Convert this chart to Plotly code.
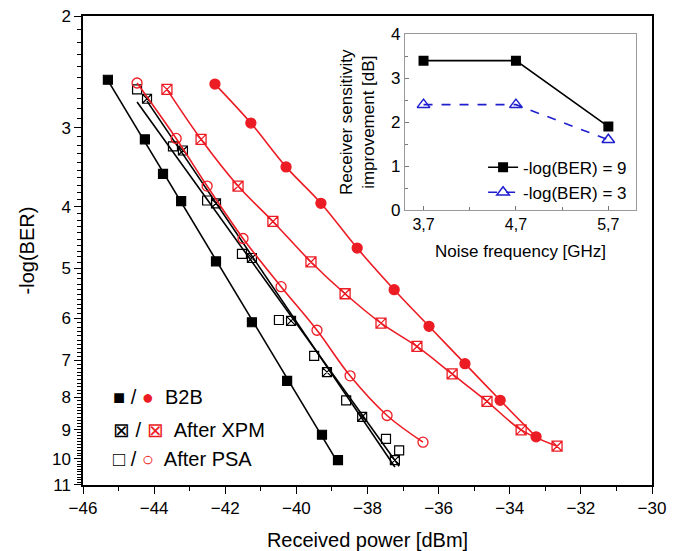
import numpy as np
import plotly.graph_objects as go

# main plot: received power [dBm] vs -log(BER)
b2b_bk_x = [-45.30, -44.26, -43.75, -43.24, -42.26, -41.25, -40.26, -39.28, -38.83]
b2b_bk_y = [2.52, 3.13, 3.55, 3.92, 4.88, 6.09, 7.54, 9.17, 10.06]
xpm_bk_x = [-44.20, -43.19, -42.26, -41.25, -40.15, -39.14, -38.15, -37.23]
xpm_bk_y = [2.70, 3.26, 3.95, 4.82, 6.06, 7.30, 8.59, 10.06]
psa_bk_x = [-44.48, -43.47, -42.51, -41.53, -40.49, -39.50, -38.60, -37.48, -37.11]
psa_bk_y = [2.61, 3.21, 3.91, 4.75, 6.04, 6.88, 8.09, 9.31, 9.71]

b2b_rd_x = [-42.29, -41.28, -40.29, -39.31, -38.29, -37.25, -36.27, -35.26, -34.27, -33.26]
b2b_rd_y = [2.56, 2.95, 3.46, 3.95, 4.65, 5.41, 6.18, 7.08, 8.09, 9.24]
xpm_rd_x = [-43.64, -42.68, -41.64, -40.66, -39.59, -38.63, -37.62, -36.61, -35.62, -34.64, -33.68, -32.67]
xpm_rd_y = [2.61, 3.13, 3.71, 4.22, 4.89, 5.49, 6.11, 6.65, 7.35, 8.12, 9.01, 9.56]
psa_rd_x = [-44.48, -43.38, -42.51, -41.50, -40.43, -39.42, -38.49, -37.45, -36.44]
psa_rd_y = [2.55, 3.12, 3.71, 4.49, 5.35, 6.27, 7.40, 8.55, 9.42]

ber_ticks = [2, 3, 4, 5, 6, 7, 8, 9, 10, 11]
ref_level = 9

# inset: receiver sensitivity improvement
noise_freq = [3.7, 4.7, 5.7]
noise_labels = ["3,7", "4,7", "5,7"]
impr_ber9 = [3.4, 3.4, 1.9]
impr_ber3 = [2.4, 2.4, 1.6]

RED = "#ec1c24"
FONT = "Liberation Sans, Arial, sans-serif"

fig = go.Figure()

def fit_line(xs, ys):
    # linear fit in log(-log(BER)) space, drawn over the measured range
    p = np.polyfit(xs, np.log10(ys), 1)
    xx = np.array([min(xs), max(xs)])
    return xx, 10 ** np.polyval(p, xx)

for xs, ys in [(b2b_bk_x, b2b_bk_y), (xpm_bk_x, xpm_bk_y), (psa_bk_x, psa_bk_y)]:
    fx, fy = fit_line(xs, ys)
    fig.add_trace(go.Scatter(x=fx, y=fy, mode="lines", line=dict(color="black", width=1.6),
                             showlegend=False, hoverinfo="skip"))

for xs, ys, sym in [(b2b_bk_x, b2b_bk_y, "square"), (xpm_bk_x, xpm_bk_y, "square-x-open"),
                    (psa_bk_x, psa_bk_y, "square-open")]:
    fig.add_trace(go.Scatter(x=xs, y=ys, mode="markers", showlegend=False,
                             marker=dict(symbol=sym, size=9, color="black",
                                         line=dict(color="black", width=1.2))))

for xs, ys, sym in [(b2b_rd_x, b2b_rd_y, "circle"), (xpm_rd_x, xpm_rd_y, "square-x-open"),
                    (psa_rd_x, psa_rd_y, "circle-open")]:
    fig.add_trace(go.Scatter(x=xs, y=ys, mode="lines+markers", showlegend=False,
                             line=dict(color=RED, width=1.6, shape="spline"),
                             marker=dict(symbol=sym, size=10, color=RED,
                                         line=dict(color=RED, width=1.3))))

# inset traces
fig.add_trace(go.Scatter(x=noise_freq, y=impr_ber9, mode="lines+markers", name="-log(BER) = 9",
                         xaxis="x2", yaxis="y2", line=dict(color="black", width=1.6),
                         marker=dict(symbol="square", size=10, color="black")))
fig.add_trace(go.Scatter(x=noise_freq, y=impr_ber3, mode="lines+markers", name="-log(BER) = 3",
                         xaxis="x2", yaxis="y2", line=dict(color="#1f1fd0", width=1.6, dash="dash"),
                         marker=dict(symbol="triangle-up-open", size=11, color="#1f1fd0",
                                     line=dict(width=1.5))))

fig.add_shape(type="line", xref="paper", x0=0, x1=1, yref="y",
              y0=np.log10(ref_level), y1=np.log10(ref_level),
              line=dict(color="black", width=1.5, dash="dash"))

legend_rows = [
    ("<span style='color:black'>■</span> / <span style='color:%s'>●</span>  B2B" % RED, 8),
    ("<span style='color:black'>⊠</span> / <span style='color:%s'>⊠</span>  After XPM" % RED, 9),
    ("<span style='color:black'>□</span> / <span style='color:%s'>○</span>  After PSA" % RED, 10),
]
for txt, yv in legend_rows:
    fig.add_annotation(x=-45.2, y=np.log10(yv), xref="x", yref="y", text=txt, showarrow=False,
                       xanchor="left", yanchor="middle", bgcolor="white",
                       font=dict(family=FONT, size=20, color="black"))

# page body has an 8px margin, so the figure is 8px smaller and margins shifted
fig.update_layout(
    width=671, height=543,
    margin=dict(l=75, r=27, t=8, b=66),
    paper_bgcolor="white", plot_bgcolor="white",
    font=dict(family=FONT, color="black"),
    xaxis=dict(range=[-46, -30], tickvals=list(range(-46, -29, 2)), automargin=False,
               showline=True, linecolor="black", linewidth=1.5, mirror=True,
               ticks="outside", ticklen=7, tickwidth=1.3, tickcolor="black",
               ticklabeloverflow="allow",
               minor=dict(tickvals=list(range(-45, -30, 2)), ticks="outside", ticklen=4,
                          tickcolor="black"),
               showgrid=False, zeroline=False, tickfont=dict(size=17),
               title=dict(text="Received power [dBm]", font=dict(size=20), standoff=20)),
    yaxis=dict(type="log", range=[np.log10(11) + 0.0004, np.log10(2) - 0.0004],
               tickvals=ber_ticks, automargin=False, ticklabeloverflow="allow",
               showline=True, linecolor="black", linewidth=1.5, mirror=True,
               ticks="outside", ticklen=7, tickwidth=1.3, tickcolor="black",
               minor=dict(tickvals=[round(v, 1) for v in np.arange(2.1, 11, 0.1)],
                          ticks="outside", ticklen=4, tickcolor="black"),
               showgrid=False, zeroline=False, tickfont=dict(size=17),
               title=dict(text="-log(BER)", font=dict(size=20), standoff=12)),
    xaxis2=dict(domain=[0.566, 0.972], anchor="y2", range=[3.5, 6.0], automargin=False,
                tickvals=noise_freq, ticktext=noise_labels,
                showline=True, linecolor="#999999", linewidth=1.2, mirror=True,
                ticks="inside", ticklen=4, tickcolor="#777777",
                minor=dict(tickvals=[4.2, 5.2], ticks="inside", ticklen=3, tickcolor="#777777"),
                showgrid=False, zeroline=False, tickfont=dict(size=16),
                title=dict(text="Noise frequency [GHz]", font=dict(size=17), standoff=12)),
    yaxis2=dict(domain=[0.586, 0.961], anchor="x2", range=[0, 4], tickvals=[0, 1, 2, 3, 4],
                automargin=False,
                showline=True, linecolor="#999999", linewidth=1.2, mirror=True,
                ticks="inside", ticklen=4, tickcolor="#777777",
                minor=dict(tickvals=[0.5, 1.5, 2.5, 3.5], ticks="inside", ticklen=3,
                           tickcolor="#777777"),
                showgrid=False, zeroline=False, tickfont=dict(size=17),
                title=dict(text="Receiver sensitivity<br>improvement [dB]", font=dict(size=17),
                           standoff=12)),
    legend=dict(x=0.965, y=0.585, xanchor="right", yanchor="bottom", bgcolor="rgba(0,0,0,0)",
                font=dict(size=17), tracegroupgap=0, itemwidth=30),
    showlegend=True,
)

fig.write_html("out.html")
